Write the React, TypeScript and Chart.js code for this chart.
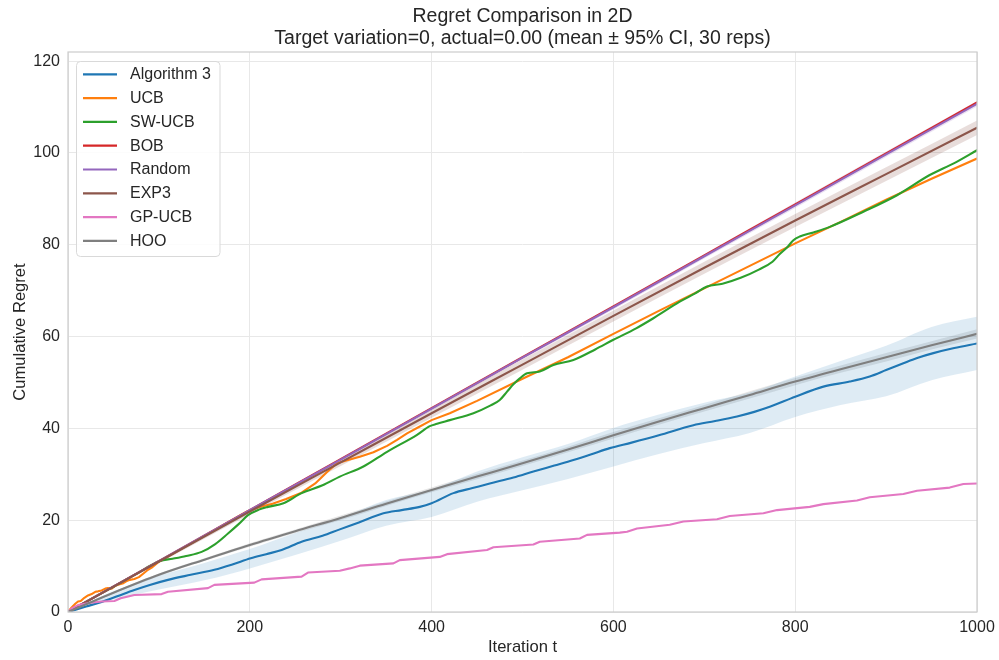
import React, { useEffect, useRef } from "react";
import { Chart, registerables } from "chart.js";

Chart.register(...registerables);

const FONT = "'Liberation Sans', Arial, Helvetica, sans-serif";
const TEXT = "#262626";

const TITLE_LINES = [
  "Regret Comparison in 2D",
  "Target variation=0, actual=0.00 (mean ± 95% CI, 30 reps)",
];
const X_LABEL = "Iteration t";
const Y_LABEL = "Cumulative Regret";
const X_TICKS = [0, 200, 400, 600, 800, 1000];
const Y_TICKS = [0, 20, 40, 60, 80, 100, 120];

const SERIES_NAMES = ["Algorithm 3", "UCB", "SW-UCB", "BOB", "Random", "EXP3", "GP-UCB", "HOO"];
const COLORS = ["#1f77b4", "#ff7f0e", "#2ca02c", "#d62728", "#9467bd", "#8c564b", "#e377c2", "#7f7f7f"];

// Algorithm 3 (mean)
const ALG3_T = [0, 20, 37, 55, 73, 90, 110, 135, 161, 180, 201, 218, 235, 257, 280, 299, 320, 347, 367, 387, 400, 424, 445, 464, 490, 512, 535, 556, 575, 596, 620, 650, 688, 712, 736, 755, 772, 800, 831, 860, 882, 900, 919, 935, 952, 975, 1000];
const ALG3_V = [0, 1.2, 2.2, 3.5, 4.8, 5.9, 7.0, 8.1, 9.2, 10.3, 11.7, 12.6, 13.5, 15.3, 16.6, 18.0, 19.5, 21.5, 22.2, 22.9, 23.7, 25.9, 27.0, 28.0, 29.3, 30.6, 31.9, 33.1, 34.3, 35.7, 36.9, 38.5, 40.7, 41.6, 42.6, 43.6, 44.7, 46.9, 49.1, 50.2, 51.3, 52.7, 54.2, 55.4, 56.4, 57.5, 58.5];
// Algorithm 3 95% CI
const BAND_T = [0, 50, 100, 150, 200, 250, 300, 350, 400, 450, 500, 550, 600, 650, 700, 750, 800, 850, 900, 950, 1000];
const ALG3_UP = [0, 4.5, 7.9, 10.7, 13.7, 17.2, 20.5, 24.4, 26.7, 30.6, 33.7, 36.6, 40.1, 43.0, 45.6, 47.8, 51.3, 54.7, 58.0, 62.1, 64.3];
const ALG3_LO = [0, 2.7, 4.9, 6.9, 9.5, 12.4, 15.5, 18.8, 20.7, 24.0, 26.5, 29.0, 31.7, 34.4, 36.8, 39.0, 42.5, 45.1, 47.0, 50.5, 52.7];

// UCB
const UCB_T = [0, 4, 8, 11, 14, 18, 22, 26, 30, 33, 37, 41, 44, 48, 52, 56, 60, 64, 68, 73, 78, 83, 88, 93, 99, 120, 150, 180, 197, 210, 225, 240, 257, 272, 285, 296, 308, 321, 336, 351, 362, 373, 386, 400, 420, 450, 500, 550, 600, 650, 700, 750, 800, 850, 900, 950, 1000];
const UCB_V = [0, 1.0, 1.8, 2.3, 2.4, 3.1, 3.6, 3.9, 4.4, 4.5, 4.7, 5.1, 5.2, 5.1, 5.7, 6.0, 6.2, 6.7, 7.0, 7.2, 7.6, 8.4, 9.2, 9.8, 10.8, 13.2, 16.6, 20.0, 21.9, 22.8, 23.6, 24.6, 26.0, 28.0, 30.5, 32.4, 33.1, 33.8, 34.8, 36.2, 37.5, 38.9, 40.3, 41.8, 43.3, 46.0, 50.8, 55.5, 60.6, 65.6, 70.5, 75.4, 80.3, 85.0, 89.8, 94.4, 98.8];

// SW-UCB
const SW_T = [0, 25, 50, 75, 101, 115, 130, 147, 162, 176, 188, 198, 210, 220, 237, 257, 280, 299, 325, 351, 384, 398, 406, 420, 446, 465, 475, 483, 490, 497, 505, 519, 534, 556, 580, 600, 625, 644, 673, 690, 703, 720, 740, 760, 775, 783, 791, 798, 805, 820, 838, 875, 912, 948, 975, 1000];
const SW_V = [0, 2.8, 5.5, 8.3, 11.1, 11.6, 12.2, 13.1, 14.8, 17.1, 19.2, 21.1, 22.3, 22.9, 23.7, 25.9, 27.6, 29.5, 31.7, 34.9, 38.6, 40.5, 41.0, 41.8, 43.3, 45.0, 46.2, 48.0, 49.6, 50.9, 52.0, 52.4, 53.8, 54.9, 57.2, 59.3, 61.8, 64.0, 67.6, 69.4, 70.9, 71.5, 72.8, 74.6, 76.3, 78.0, 79.4, 81.0, 81.8, 82.7, 83.9, 87.2, 90.8, 95.2, 97.8, 100.6];

// BOB, Random, EXP3 (sampled every 100)
const LIN_T = [0, 100, 200, 300, 400, 500, 600, 700, 800, 900, 1000];
const BOB_V = [0, 11.1, 22.2, 33.3, 44.4, 55.5, 66.6, 77.7, 88.8, 99.9, 111.0];
const RANDOM_V = [0, 11.1, 22.2, 33.2, 44.3, 55.4, 66.4, 77.5, 88.6, 99.7, 110.7];
const RANDOM_UP = [0, 11.3, 22.5, 33.6, 44.7, 55.8, 66.9, 78.0, 89.2, 100.3, 111.3];
const RANDOM_LO = [0, 10.9, 21.9, 32.8, 43.9, 55.0, 65.9, 77.0, 88.0, 99.1, 110.1];
const EXP3_V = [0, 11.0, 21.9, 32.6, 43.3, 53.9, 64.5, 75.0, 85.3, 95.4, 105.5];
const EXP3_UP = [0, 11.4, 22.5, 33.4, 44.3, 55.0, 65.7, 76.3, 86.7, 96.9, 107.1];
const EXP3_LO = [0, 10.6, 21.3, 31.8, 42.3, 52.8, 63.3, 73.7, 83.9, 93.9, 103.9];

// GP-UCB
const GP_T = [0, 5, 11, 25, 37, 51, 58, 73, 103, 110, 154, 161, 205, 213, 257, 264, 299, 310, 321, 358, 365, 409, 417, 461, 468, 512, 519, 563, 571, 607, 615, 626, 662, 677, 714, 728, 765, 780, 816, 831, 868, 882, 919, 934, 970, 985, 1000];
const GP_V = [0, 0.9, 1.5, 2.0, 2.3, 2.4, 3.0, 3.7, 3.9, 4.4, 5.2, 5.9, 6.4, 7.1, 7.7, 8.6, 9.0, 9.5, 10.1, 10.6, 11.3, 12.0, 12.6, 13.5, 14.1, 14.7, 15.3, 16.0, 16.8, 17.3, 17.5, 18.2, 19.0, 19.7, 20.2, 20.9, 21.5, 22.2, 22.9, 23.5, 24.3, 25.0, 25.7, 26.4, 27.1, 27.9, 28.0];

// HOO
const HOO_V = [0, 4.2, 8.1, 11.4, 14.6, 17.6, 20.5, 23.6, 26.6, 29.5, 32.4, 35.4, 38.5, 41.5, 44.4, 47.3, 50.2, 52.9, 55.5, 58.1, 60.6];
const HOO_UP = [0, 4.4, 8.4, 11.7, 15.0, 18.0, 21.0, 24.1, 27.1, 30.1, 33.0, 36.0, 39.2, 42.2, 45.1, 48.1, 51.0, 53.7, 56.4, 59.0, 61.6];
const HOO_LO = [0, 4.0, 7.8, 11.1, 14.2, 17.2, 20.0, 23.1, 26.1, 28.9, 31.8, 34.8, 37.8, 40.8, 43.7, 46.5, 49.4, 52.1, 54.6, 57.2, 59.6];

const pts = (t: number[], v: number[]) => t.map((x, i) => ({ x, y: v[i] }));

function hexA(hex: string, a: number) {
  const n = parseInt(hex.slice(1), 16);
  return `rgba(${(n >> 16) & 255},${(n >> 8) & 255},${n & 255},${a})`;
}

const spinesPlugin = {
  id: "spines",
  afterDatasetsDraw(chart: any) {
    const { ctx, chartArea: a } = chart;
    ctx.save();
    ctx.strokeStyle = "#cccccc";
    ctx.lineWidth = 1.2;
    ctx.strokeRect(a.left, a.top, a.right - a.left, a.bottom - a.top);
    ctx.restore();
  },
};

// Title centred over the axes (as matplotlib does)
const axesTitlePlugin = {
  id: "axesTitle",
  afterDraw(chart: any) {
    const { ctx, chartArea: a } = chart;
    const cx = (a.left + a.right) / 2;
    ctx.save();
    ctx.fillStyle = TEXT;
    ctx.font = `19.5px ${FONT}`;
    ctx.textAlign = "center";
    ctx.textBaseline = "middle";
    TITLE_LINES.forEach((s, i) => ctx.fillText(s, cx, a.top - 35 + i * 22));
    ctx.restore();
  },
};

const legendPlugin = {
  id: "boxLegend",
  afterDraw(chart: any) {
    const { ctx, chartArea: a } = chart;
    const x0 = a.left + 8.5;
    const y0 = a.top + 9.5;
    const w = 143.5;
    const h = 195;
    const r = 4;
    ctx.save();
    ctx.beginPath();
    ctx.moveTo(x0 + r, y0);
    ctx.lineTo(x0 + w - r, y0);
    ctx.arcTo(x0 + w, y0, x0 + w, y0 + r, r);
    ctx.lineTo(x0 + w, y0 + h - r);
    ctx.arcTo(x0 + w, y0 + h, x0 + w - r, y0 + h, r);
    ctx.lineTo(x0 + r, y0 + h);
    ctx.arcTo(x0, y0 + h, x0, y0 + h - r, r);
    ctx.lineTo(x0, y0 + r);
    ctx.arcTo(x0, y0, x0 + r, y0, r);
    ctx.closePath();
    ctx.fillStyle = "rgba(255,255,255,0.85)";
    ctx.fill();
    ctx.strokeStyle = "#d9d9d9";
    ctx.lineWidth = 1;
    ctx.stroke();
    ctx.font = `16px ${FONT}`;
    ctx.textBaseline = "middle";
    ctx.textAlign = "left";
    SERIES_NAMES.forEach((name, i) => {
      const y = y0 + 12.8 + i * 23.8;
      ctx.strokeStyle = COLORS[i];
      ctx.lineWidth = 2.2;
      ctx.lineCap = "butt";
      ctx.beginPath();
      ctx.moveTo(x0 + 6.5, y);
      ctx.lineTo(x0 + 40.5, y);
      ctx.stroke();
      ctx.fillStyle = TEXT;
      ctx.fillText(name, x0 + 53.5, y + 0.5);
    });
    ctx.restore();
  },
};

export default function App() {
  const ref = useRef<HTMLCanvasElement | null>(null);

  useEffect(() => {
    document.body.style.margin = "0";
    document.body.style.background = "#ffffff";
    const canvas = ref.current;
    if (!canvas) return;

    const line = (i: number, t: number[], v: number[], order: number, smooth = true) => ({
      label: SERIES_NAMES[i],
      data: pts(t, v),
      borderColor: COLORS[i],
      backgroundColor: COLORS[i],
      borderWidth: 2.1,
      pointRadius: 0,
      fill: false,
      order,
      cubicInterpolationMode: smooth ? "monotone" : "default",
      tension: smooth ? 0.4 : 0,
      borderCapStyle: "round",
      borderJoinStyle: "round",
    });
    const band = (label: string, t: number[], v: number[], order: number, fillTo: number | false, color: string) => ({
      label,
      data: pts(t, v),
      borderColor: "rgba(0,0,0,0)",
      backgroundColor: color,
      borderWidth: 0,
      pointRadius: 0,
      fill: fillTo,
      order,
      cubicInterpolationMode: "monotone",
      tension: 0.4,
    });

    const datasets: any[] = [
      line(0, ALG3_T, ALG3_V, 7),
      line(1, UCB_T, UCB_V, 6, false),
      line(2, SW_T, SW_V, 5),
      line(3, LIN_T, BOB_V, 4),
      line(4, LIN_T, RANDOM_V, 3),
      line(5, LIN_T, EXP3_V, 2),
      line(6, GP_T, GP_V, 1, false),
      line(7, BAND_T, HOO_V, 0),
      band("a3up", BAND_T, ALG3_UP, 20, 9, hexA(COLORS[0], 0.15)),
      band("a3lo", BAND_T, ALG3_LO, 21, false, "rgba(0,0,0,0)"),
      band("rup", LIN_T, RANDOM_UP, 22, 11, hexA(COLORS[4], 0.2)),
      band("rlo", LIN_T, RANDOM_LO, 23, false, "rgba(0,0,0,0)"),
      band("eup", LIN_T, EXP3_UP, 24, 13, hexA(COLORS[5], 0.2)),
      band("elo", LIN_T, EXP3_LO, 25, false, "rgba(0,0,0,0)"),
      band("hup", BAND_T, HOO_UP, 26, 15, hexA(COLORS[7], 0.2)),
      band("hlo", BAND_T, HOO_LO, 27, false, "rgba(0,0,0,0)"),
    ];

    const chart = new Chart(canvas, {
      type: "line",
      data: { datasets },
      plugins: [spinesPlugin, legendPlugin, axesTitlePlugin],
      options: {
        responsive: false,
        devicePixelRatio: 1,
        animation: false,
        events: [],
        layout: { padding: { left: 0, right: 22, top: 52, bottom: 0 } },
        plugins: {
          legend: { display: false },
          tooltip: { enabled: false },
          title: { display: false },
        },
        scales: {
          x: {
            type: "linear",
            min: 0,
            max: 1000,
            afterBuildTicks: (s: any) => {
              s.ticks = X_TICKS.map((value) => ({ value }));
            },
            afterFit: (s: any) => {
              s.height = 48;
              s.paddingLeft = 0;
              s.paddingRight = 0;
            },
            ticks: {
              color: TEXT,
              font: { family: FONT, size: 16 },
              padding: 6,
              maxRotation: 0,
              callback: (v: any) => String(v),
            },
            grid: { color: "#e8e8e8", lineWidth: 1, drawTicks: false },
            border: { display: false },
            title: {
              display: true,
              text: X_LABEL,
              color: TEXT,
              font: { family: FONT, size: 16.6 },
              padding: { top: 0, bottom: 3 },
            },
          },
          y: {
            type: "linear",
            min: 0,
            max: 122,
            afterBuildTicks: (s: any) => {
              s.ticks = Y_TICKS.map((value) => ({ value }));
            },
            afterFit: (s: any) => {
              s.width = 68;
              s.paddingTop = 0;
              s.paddingBottom = 0;
            },
            ticks: {
              color: TEXT,
              font: { family: FONT, size: 16 },
              padding: 8,
              callback: (v: any) => String(v),
            },
            grid: { color: "#e8e8e8", lineWidth: 1, drawTicks: false },
            border: { display: false },
            title: {
              display: true,
              text: Y_LABEL,
              color: TEXT,
              font: { family: FONT, size: 16.6 },
              padding: { top: 10, bottom: 0 },
            },
          },
        },
      } as any,
    });
    return () => chart.destroy();
  }, []);

  return (
    <canvas
      ref={ref}
      width={999}
      height={660}
      style={{ position: "fixed", left: 0, top: 0, width: 999, height: 660, display: "block" }}
    />
  );
}
